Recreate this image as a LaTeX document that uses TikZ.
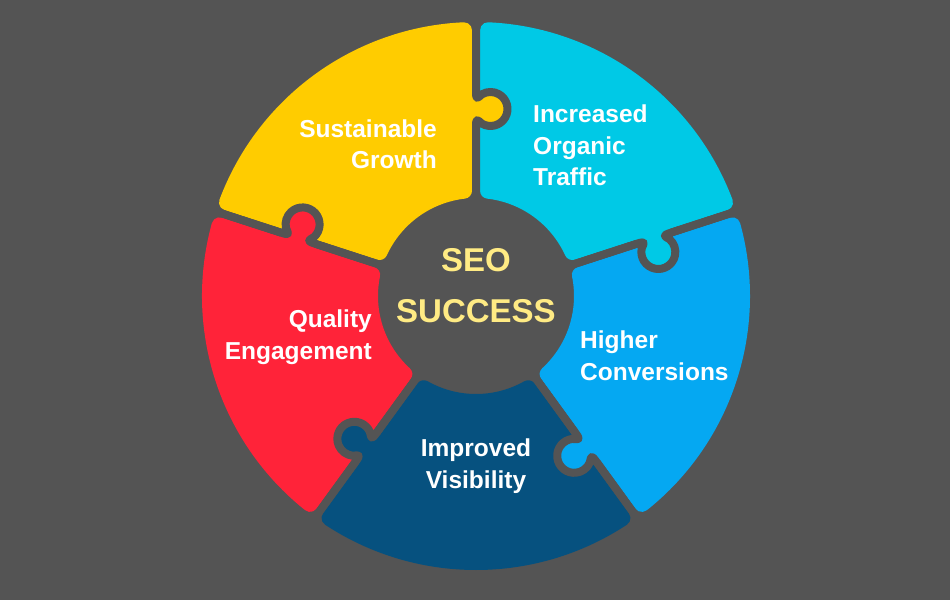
\documentclass[tikz,border=0pt]{standalone}
\usepackage{fontspec}
\setmainfont{Liberation Sans}
\definecolor{bgc}{HTML}{545454}
\definecolor{cyellow}{HTML}{FFCC00}
\definecolor{ccyan}{HTML}{00C9E6}
\definecolor{cblue}{HTML}{05A8F2}
\definecolor{cdark}{HTML}{06517F}
\definecolor{cred}{HTML}{FF2339}
\definecolor{ctext}{HTML}{FFEB84}
\def\rk{187}
\begin{document}
\begin{tikzpicture}[x=1pt,y=1pt,
  lbl/.style={text=white, font=\bfseries\fontsize{24.5}{31.5}\selectfont, inner sep=0pt},
  sep/.style={draw=bgc, line width=8pt, line join=round}]
\fill[bgc] (-476,-304) rectangle (474,296);
\useasboundingbox (-476,-304) rectangle (474,296);
% pieces (inset by the gap, with rounded corners)
\foreach \a/\c in {90/cyellow, 18/ccyan, -54/cblue, -126/cdark, 162/cred} {
  \begin{scope}[rotate=\a]
  \fill[\c] (6.5003:98)
     arc[start angle=186.5003, end angle=270, radius=8]
     -- (265.729,4)
     arc[start angle=270, end angle=362.5858, radius=8]
     arc[start angle=2.5858, end angle=69.4142, radius=274]
     arc[start angle=69.4142, end angle=162, radius=8]
     -- (69.825:105.395)
     arc[start angle=162, end angle=245.4997, radius=8]
     arc[start angle=65.4997, end angle=6.5003, radius=98] -- cycle;
  \end{scope}
}
% knobs (joined back into their own piece)
\foreach \a/\c in {90/cyellow, 18/ccyan, -54/cblue, -126/cdark, 162/cred} {
  \begin{scope}[rotate=\a]
    \fill[\c] (\rk-18,6) -- (\rk-18,0) .. controls (\rk-8.5,0) and (\rk-10.5,-1) .. (\rk-14.7,-6)
      arc[start angle=150, end angle=390, radius=17]
      .. controls (\rk+10.5,-1) and (\rk+8.5,0) .. (\rk+18,0) -- (\rk+18,6) -- cycle;
  \end{scope}
}
% separators
\foreach \a in {90, 18, -54, -126, 162} {
  \begin{scope}[rotate=\a]
    \draw[sep] (90,0) -- (\rk-18,0) .. controls (\rk-8.5,0) and (\rk-10.5,-1) .. (\rk-14.7,-6)
      arc[start angle=150, end angle=390, radius=17]
      .. controls (\rk+10.5,-1) and (\rk+8.5,0) .. (\rk+18,0) -- (282,0);
  \end{scope}
}
% labels
\node[lbl, align=right, anchor=east] (growth) at (-39,152) {Sustainable\\Growth};
\node[lbl, align=left, anchor=west] (traffic) at (57,150.5) {Increased\\Organic\\Traffic};
\node[lbl, align=left, anchor=west] (conv) at (104,-59.5) {Higher\\Conversions};
\node[lbl, align=center, anchor=center] (vis) at (0,-170) {Improved\\Visibility};
\node[lbl, align=right, anchor=east] (eng) at (-104,-41) {Quality\\Engagement};
\node[text=ctext, font=\bfseries\fontsize{33}{51}\selectfont, inner sep=0pt, align=center] (seo) at (0,10.5) {SEO\\SUCCESS};
\end{tikzpicture}
\end{document}
